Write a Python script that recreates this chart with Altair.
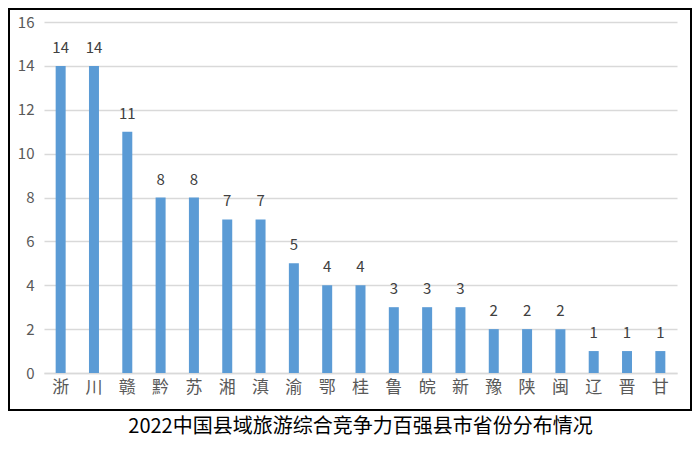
import pandas as pd
import altair as alt

provinces = ['浙', '川', '赣', '黔', '苏', '湘', '滇', '渝', '鄂', '桂',
             '鲁', '皖', '新', '豫', '陕', '闽', '辽', '晋', '甘']
counts = [14, 14, 11, 8, 8, 7, 7, 5, 4, 4, 3, 3, 3, 2, 2, 2, 1, 1, 1]
y_ticks = [0, 2, 4, 6, 8, 10, 12, 14, 16]
title_text = '2022中国县域旅游综合竞争力百强县市省份分布情况'

FONT = 'Noto Sans CJK SC'

data = pd.DataFrame({'province': provinces, 'count': counts})

base = alt.Chart(data).encode(
    x=alt.X('province:N', sort=provinces, title=None,
            scale=alt.Scale(paddingInner=0.7, paddingOuter=0.35),
            axis=alt.Axis(labelAngle=0, labelFontSize=17, labelColor='#595959',
                          labelFont=FONT, labelPadding=6, ticks=False,
                          domainColor='#d9d9d9', domainWidth=1.5, grid=False)),
    y=alt.Y('count:Q', title=None,
            scale=alt.Scale(domain=[0, 16], nice=False),
            axis=alt.Axis(values=y_ticks, labelFontSize=15, labelColor='#595959',
                          labelFont=FONT, labelPadding=10, ticks=False, domain=False,
                          gridColor='#d9d9d9', gridWidth=1.5)),
)

bars = base.mark_bar(color='#5b9bd5')

labels = base.mark_text(dy=-10, baseline='bottom', fontSize=15,
                        color='#404040', font=FONT).encode(text='count:Q')

# outer frame around the chart body
frame = alt.Chart(data).mark_rect(fill=None, stroke='black', strokeWidth=1.2).encode(
    x=alt.value(-35), x2=alt.value(647), y=alt.value(-13), y2=alt.value(388)
)

chart = (frame + bars + labels).properties(
    width=633, height=351,
    autosize=alt.AutoSizeParams(type='none'),
    padding={'left': 36, 'top': 14, 'right': 15, 'bottom': 69},
    title=alt.Title(title_text, orient='bottom', anchor='middle', offset=6,
                    fontSize=20, fontWeight='normal', color='black', font=FONT),
).configure_view(stroke=None)

chart.save("out.html", embed_options={"renderer": "svg", "actions": False})
